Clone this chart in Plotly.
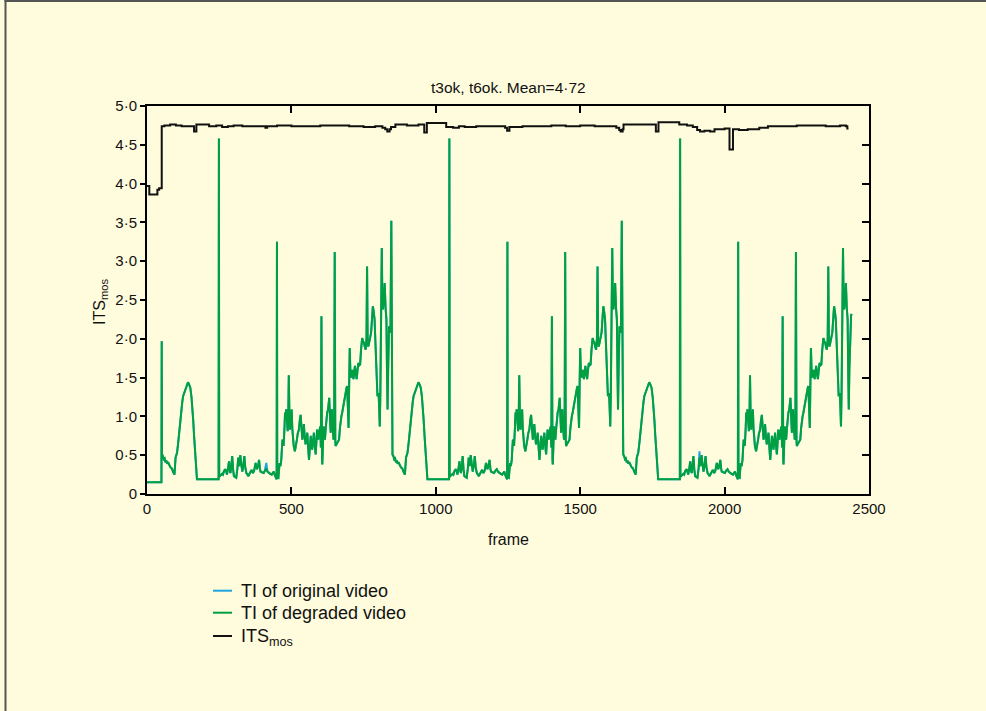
import plotly.graph_objects as go

FONT = "Liberation Sans, Arial, Helvetica, sans-serif"
BG = "#FFFCDD"
BLUE = "#1EA5E0"
GREEN = "#00A040"
BLACK = "#111111"

# ---- TI of degraded video -------------------------------------------------
# flat lead-in before the first scene cut
LEAD_FRAMES = [0, 50]
LEAD_VALUES = [0.15, 0.15]

# frames relative to each scene cut (the sequence is looped three times)
CYCLE_T = [1, 2, 5, 8, 11, 14, 17, 20, 23, 26, 29, 32, 36, 40, 43, 45, 49, 52, 54, 58,
           61, 65, 69, 72, 75, 79, 83, 87, 92, 96, 100, 104, 107, 110, 113, 116, 118, 121, 123, 198,
           199, 200, 202, 206, 210, 213, 217, 222, 225, 227, 231, 234, 237, 239, 242, 245, 248, 251, 255, 259,
           263, 266, 269, 273, 277, 280, 284, 287, 290, 294, 298, 301, 305, 308, 312, 317, 321, 326, 329, 331,
           335, 338, 341, 343, 348, 354, 358, 363, 367, 372, 377, 382, 386, 389, 393, 396, 399, 400, 401, 405,
           407, 409, 412, 415, 417, 419, 421, 423, 426, 428, 430, 432, 435, 437, 439, 441, 443, 445, 448, 451,
           453, 455, 458, 462, 465, 469, 472, 476, 479, 482, 485, 488, 491, 493, 496, 499, 502, 505, 508, 511,
           514, 517, 520, 522, 525, 528, 531, 534, 537, 539, 541, 543, 546, 550, 552, 554, 556, 557, 559, 561,
           564, 566, 569, 571, 574, 577, 579, 581, 584, 586, 588, 590, 593, 596, 598, 600, 602, 603, 606, 609,
           612, 615, 618, 620, 623, 626, 629, 632, 635, 638, 641, 643, 646, 648, 650, 652, 654, 656, 659, 661,
           663, 665, 668, 670, 673, 676, 679, 682, 685, 688, 691, 695, 698, 701, 704, 707, 710, 712, 714, 716,
           719, 722, 726, 729, 732, 735, 738, 741, 744, 746, 748, 750, 752, 754, 756, 758, 760, 763, 765, 767,
           770, 773, 776, 779, 781, 783, 785, 788, 791, 793, 796]

CYCLE1_V = [1.97, 0.51, 0.49, 0.45, 0.46, 0.41, 0.43, 0.39, 0.41, 0.37, 0.36, 0.34, 0.33, 0.29, 0.27, 0.25, 0.47, 0.50, 0.53, 0.66,
            0.79, 0.92, 1.05, 1.18, 1.26, 1.30, 1.35, 1.40, 1.44, 1.41, 1.37, 1.25, 1.13, 0.95, 0.75, 0.55, 0.40, 0.25, 0.19, 0.19,
            4.58, 0.25, 0.23, 0.24, 0.26, 0.25, 0.30, 0.32, 0.26, 0.25, 0.34, 0.42, 0.30, 0.27, 0.36, 0.49, 0.32, 0.23, 0.22, 0.21,
            0.33, 0.47, 0.36, 0.50, 0.37, 0.29, 0.38, 0.49, 0.35, 0.27, 0.25, 0.23, 0.26, 0.29, 0.31, 0.27, 0.30, 0.40, 0.34, 0.32,
            0.37, 0.44, 0.33, 0.29, 0.28, 0.27, 0.30, 0.32, 0.29, 0.27, 0.26, 0.25, 0.27, 0.29, 0.24, 0.21, 0.19, 3.25, 0.22, 0.21,
            0.30, 0.40, 0.36, 0.44, 0.58, 0.70, 0.66, 0.62, 0.85, 1.05, 0.98, 1.09, 0.92, 0.81, 0.95, 1.53, 1.05, 0.83, 0.95, 1.09,
            0.85, 0.70, 0.62, 0.55, 0.60, 0.70, 0.78, 0.83, 0.95, 1.02, 0.85, 0.70, 0.78, 0.90, 0.75, 0.64, 0.70, 0.79, 0.60, 0.44,
            0.60, 0.75, 0.65, 0.57, 0.68, 0.79, 0.62, 0.51, 0.70, 0.83, 0.76, 0.70, 0.80, 0.87, 0.60, 2.29, 0.45, 0.38, 0.60, 0.87,
            0.78, 0.70, 0.85, 0.96, 1.05, 1.09, 1.16, 1.24, 0.95, 0.79, 0.95, 1.09, 0.85, 0.70, 0.75, 3.12, 0.70, 0.62, 0.64, 0.66,
            0.68, 0.70, 0.85, 0.96, 1.00, 1.05, 1.12, 1.22, 1.28, 1.35, 1.37, 1.39, 1.05, 0.85, 1.40, 1.88, 1.60, 1.50, 1.56, 1.60,
            1.52, 1.48, 1.58, 1.65, 1.55, 1.48, 1.60, 1.69, 1.66, 1.67, 1.85, 2.01, 1.97, 1.95, 1.90, 1.86, 2.00, 2.93, 2.00, 1.90,
            1.95, 2.02, 2.08, 2.25, 2.42, 2.35, 2.25, 1.95, 1.65, 1.40, 1.26, 1.28, 1.30, 1.10, 0.87, 1.30, 2.10, 3.17, 2.50, 2.38,
            2.50, 2.72, 2.40, 2.25, 1.60, 1.09, 1.60, 2.16, 2.10, 2.08, 3.52]

CYCLE2_V = [0.51, 0.51, 0.49, 0.45, 0.46, 0.41, 0.43, 0.39, 0.41, 0.37, 0.36, 0.34, 0.33, 0.29, 0.27, 0.25, 0.47, 0.50, 0.53, 0.66,
            0.79, 0.92, 1.05, 1.18, 1.26, 1.30, 1.35, 1.40, 1.44, 1.41, 1.37, 1.25, 1.13, 0.95, 0.75, 0.55, 0.40, 0.25, 0.19, 0.19,
            4.58, 0.25, 0.23, 0.24, 0.26, 0.25, 0.30, 0.32, 0.26, 0.25, 0.34, 0.42, 0.30, 0.27, 0.36, 0.49, 0.32, 0.23, 0.22, 0.21,
            0.33, 0.47, 0.36, 0.50, 0.37, 0.29, 0.38, 0.49, 0.35, 0.27, 0.25, 0.23, 0.26, 0.29, 0.31, 0.27, 0.30, 0.40, 0.34, 0.32,
            0.37, 0.44, 0.33, 0.29, 0.28, 0.27, 0.30, 0.32, 0.29, 0.27, 0.26, 0.25, 0.27, 0.29, 0.24, 0.21, 0.19, 3.25, 0.22, 0.21,
            0.30, 0.40, 0.36, 0.44, 0.58, 0.70, 0.66, 0.62, 0.85, 1.05, 0.98, 1.09, 0.92, 0.81, 0.95, 1.53, 1.05, 0.83, 0.95, 1.09,
            0.85, 0.70, 0.62, 0.55, 0.60, 0.70, 0.78, 0.83, 0.95, 1.02, 0.85, 0.70, 0.78, 0.90, 0.75, 0.64, 0.70, 0.79, 0.60, 0.44,
            0.60, 0.75, 0.65, 0.57, 0.68, 0.79, 0.62, 0.51, 0.70, 0.83, 0.76, 0.70, 0.80, 0.87, 0.60, 2.29, 0.45, 0.38, 0.60, 0.87,
            0.78, 0.70, 0.85, 0.96, 1.05, 1.09, 1.16, 1.24, 0.95, 0.79, 0.95, 1.09, 0.85, 0.70, 0.75, 3.12, 0.70, 0.62, 0.64, 0.66,
            0.68, 0.70, 0.85, 0.96, 1.00, 1.05, 1.12, 1.22, 1.28, 1.35, 1.37, 1.39, 1.05, 0.85, 1.40, 1.88, 1.60, 1.50, 1.56, 1.60,
            1.52, 1.48, 1.58, 1.65, 1.55, 1.48, 1.60, 1.69, 1.66, 1.67, 1.85, 2.01, 1.97, 1.95, 1.90, 1.86, 2.00, 2.93, 2.00, 1.90,
            1.95, 2.02, 2.08, 2.25, 2.42, 2.35, 2.25, 1.95, 1.65, 1.40, 1.26, 1.28, 1.30, 1.10, 0.87, 1.30, 2.10, 3.17, 2.50, 2.38,
            2.50, 2.72, 2.40, 2.25, 1.60, 1.09, 1.60, 2.16, 2.10, 2.08, 3.52]

CYCLE3_V = [0.51, 0.51, 0.49, 0.45, 0.46, 0.41, 0.43, 0.39, 0.41, 0.37, 0.36, 0.34, 0.33, 0.29, 0.27, 0.25, 0.47, 0.50, 0.53, 0.66,
            0.79, 0.92, 1.05, 1.18, 1.26, 1.30, 1.35, 1.40, 1.44, 1.41, 1.37, 1.25, 1.13, 0.95, 0.75, 0.55, 0.40, 0.25, 0.19, 0.19,
            4.58, 0.25, 0.23, 0.24, 0.26, 0.25, 0.30, 0.32, 0.26, 0.25, 0.34, 0.42, 0.30, 0.27, 0.36, 0.49, 0.32, 0.23, 0.22, 0.21,
            0.33, 0.47, 0.36, 0.50, 0.37, 0.29, 0.38, 0.49, 0.35, 0.27, 0.25, 0.23, 0.26, 0.29, 0.31, 0.27, 0.30, 0.40, 0.34, 0.32,
            0.37, 0.44, 0.33, 0.29, 0.28, 0.27, 0.30, 0.32, 0.29, 0.27, 0.26, 0.25, 0.27, 0.29, 0.24, 0.21, 0.19, 3.25, 0.22, 0.21,
            0.30, 0.40, 0.36, 0.44, 0.58, 0.70, 0.66, 0.62, 0.85, 1.05, 0.98, 1.09, 0.92, 0.81, 0.95, 1.53, 1.05, 0.83, 0.95, 1.09,
            0.85, 0.70, 0.62, 0.55, 0.60, 0.70, 0.78, 0.83, 0.95, 1.02, 0.85, 0.70, 0.78, 0.90, 0.75, 0.64, 0.70, 0.79, 0.60, 0.44,
            0.60, 0.75, 0.65, 0.57, 0.68, 0.79, 0.62, 0.51, 0.70, 0.83, 0.76, 0.70, 0.80, 0.87, 0.60, 2.29, 0.45, 0.38, 0.60, 0.87,
            0.78, 0.70, 0.85, 0.96, 1.05, 1.09, 1.16, 1.24, 0.95, 0.79, 0.95, 1.09, 0.85, 0.70, 0.75, 3.12, 0.70, 0.62, 0.64, 0.66,
            0.68, 0.70, 0.85, 0.96, 1.00, 1.05, 1.12, 1.22, 1.28, 1.35, 1.37, 1.39, 1.05, 0.85, 1.40, 1.88, 1.60, 1.50, 1.56, 1.60,
            1.52, 1.48, 1.58, 1.65, 1.55, 1.48, 1.60, 1.69, 1.66, 1.67, 1.85, 2.01, 1.97, 1.95, 1.90, 1.86, 2.00, 2.93, 2.00, 1.90,
            1.95, 2.02, 2.08, 2.25, 2.42, 2.35, 2.25, 1.95, 1.65, 1.40, 1.26, 1.28, 1.30, 1.10, 0.87, 1.30, 2.10, 3.17, 2.50, 2.38,
            2.50, 2.72, 2.40, 2.25, 1.60, 1.09, 1.60, 2.16, 2.30, 2.32]

CYCLE_STARTS = [50, 848, 1647]

# TI of original video: identical to the degraded one except at these frames
ORIG_DIFF_FRAMES = [413, 1913]
ORIG_DIFF_VALUES = [0.40, 0.55]

# ---- ITS mos (step line) ---------------------------------------------------
ITS_FRAMES = [0, 8, 36, 42, 51, 60, 80, 100, 120, 150, 163, 171, 200, 215, 240, 260, 280, 300, 330, 360,
              410, 416, 450, 500, 560, 600, 650, 700, 750, 790, 815, 825, 832, 840, 845, 860, 900, 940, 960, 969,
              1036, 1060, 1080, 1100, 1140, 1200, 1240, 1247, 1255, 1300, 1350, 1400, 1450, 1500, 1550, 1600, 1625, 1635, 1640, 1647,
              1650, 1700, 1762, 1771, 1843, 1870, 1890, 1905, 1915, 1930, 1950, 1965, 2000, 2017, 2029, 2050, 2080, 2120, 2150, 2250,
              2350, 2400, 2420, 2425, 2429]
ITS_VALUES = [3.97, 3.86, 3.92, 3.94, 4.74, 4.75, 4.76, 4.75, 4.74, 4.74, 4.67, 4.76, 4.76, 4.74, 4.75, 4.73, 4.74, 4.75, 4.74, 4.74,
              4.72, 4.74, 4.75, 4.74, 4.74, 4.75, 4.75, 4.74, 4.73, 4.74, 4.72, 4.70, 4.67, 4.70, 4.73, 4.76, 4.75, 4.76, 4.66, 4.78,
              4.73, 4.72, 4.74, 4.73, 4.74, 4.74, 4.72, 4.68, 4.73, 4.74, 4.74, 4.75, 4.74, 4.75, 4.74, 4.74, 4.72, 4.69, 4.67, 4.70,
              4.76, 4.76, 4.67, 4.79, 4.76, 4.75, 4.73, 4.69, 4.67, 4.68, 4.67, 4.70, 4.71, 4.44, 4.70, 4.69, 4.70, 4.72, 4.74, 4.75,
              4.74, 4.75, 4.74, 4.71, 4.71]

Y_TICKS = [0, 0.5, 1.0, 1.5, 2.0, 2.5, 3.0, 3.5, 4.0, 4.5, 5.0]
Y_TICK_TEXT = ["0", "0·5", "1·0", "1·5", "2·0", "2·5", "3·0", "3·5", "4·0", "4·5", "5·0"]
X_TICKS = [0, 500, 1000, 1500, 2000, 2500]

LEGEND_LABELS = ["TI of original video", "TI of degraded video", "ITS<sub>mos</sub>"]
LEGEND_COLORS = [BLUE, GREEN, BLACK]

# ---- assemble series --------------------------------------------------------
deg_x = list(LEAD_FRAMES)
deg_y = list(LEAD_VALUES)
for start, vals in zip(CYCLE_STARTS, [CYCLE1_V, CYCLE2_V, CYCLE3_V]):
    for t, v in zip(CYCLE_T, vals):
        deg_x.append(start + t)
        deg_y.append(v)

diff = dict(zip(ORIG_DIFF_FRAMES, ORIG_DIFF_VALUES))
orig_y = [diff.get(f, v) for f, v in zip(deg_x, deg_y)]

fig = go.Figure()
fig.add_trace(go.Scatter(x=deg_x, y=orig_y, mode="lines", line=dict(color=BLUE, width=2),
                         name="TI of original video", showlegend=False))
fig.add_trace(go.Scatter(x=deg_x, y=deg_y, mode="lines", line=dict(color=GREEN, width=2),
                         name="TI of degraded video", showlegend=False))
fig.add_trace(go.Scatter(x=ITS_FRAMES, y=ITS_VALUES, mode="lines", line=dict(color=BLACK, width=2, shape="hv"),
                         name="ITS mos", showlegend=False))
# carrier for the right-hand inward ticks
fig.add_trace(go.Scatter(x=[None], y=[None], yaxis="y2", mode="lines", showlegend=False, hoverinfo="skip"))

L, R, T, B = 147, 117, 106, 217
W, H = 986, 711
pw, ph = W - L - R, H - T - B


def px(x):
    return (x - L) / pw


def py(y):
    return (H - B - y) / ph


shapes = [
    dict(type="line", xref="paper", yref="paper", x0=px(5.5), x1=px(5.5), y0=py(711), y1=py(0),
         line=dict(color="#555555", width=2)),
    dict(type="line", xref="paper", yref="paper", x0=px(4.5), x1=px(986), y0=py(1), y1=py(1),
         line=dict(color="#555555", width=2)),
]
annotations = []
legend_rows = [590.7, 612.7, 636.0]
for lab, col, row in zip(LEGEND_LABELS, LEGEND_COLORS, legend_rows):
    shapes.append(dict(type="line", xref="paper", yref="paper", x0=px(213), x1=px(232), y0=py(row), y1=py(row),
                       line=dict(color=col, width=2)))
    annotations.append(dict(xref="paper", yref="paper", x=px(239), y=py(row + 1 if "sub" in lab else row),
                            text=lab, showarrow=False, xanchor="left", yanchor="middle",
                            font=dict(family=FONT, size=18, color="#111")))

annotations.append(dict(xref="paper", yref="paper", x=0.5, y=py(539), text="frame", showarrow=False,
                        xanchor="center", yanchor="middle", font=dict(family=FONT, size=16, color="#111")))
annotations.append(dict(xref="paper", yref="paper", x=px(100), y=py(302), text="ITS<sub>mos</sub>", showarrow=False,
                        textangle=-90, xanchor="center", yanchor="middle",
                        font=dict(family=FONT, size=16, color="#111")))
annotations.append(dict(xref="paper", yref="paper", x=0.5, y=py(88), text="t3ok, t6ok. Mean=4·72", showarrow=False,
                        xanchor="center", yanchor="middle", font=dict(family=FONT, size=15.5, color="#111")))

fig.update_layout(
    width=W, height=H,
    margin=dict(l=L, r=R, t=T, b=B, pad=0),
    paper_bgcolor=BG, plot_bgcolor=BG,
    font=dict(family=FONT, color="#111"),
    shapes=shapes, annotations=annotations,
    showlegend=False,
    xaxis=dict(range=[0, 2500], tickvals=X_TICKS, ticks="inside", ticklen=7, tickwidth=2, tickcolor="black",
               showline=True, linewidth=2, linecolor="black", mirror="ticks", showgrid=False, zeroline=False,
               tickfont=dict(family=FONT, size=15, color="#111")),
    yaxis=dict(range=[0, 5], tickvals=Y_TICKS, ticktext=Y_TICK_TEXT, ticks="outside", ticklen=5, tickwidth=2,
               tickcolor="black", showline=True, linewidth=2, linecolor="black", mirror=True, showgrid=False,
               zeroline=False, tickfont=dict(family=FONT, size=15, color="#111")),
    yaxis2=dict(range=[0, 5], overlaying="y", side="right", tickvals=Y_TICKS, ticks="inside", ticklen=7,
                tickwidth=2, tickcolor="black", showticklabels=False, showline=False, showgrid=False,
                zeroline=False),
)

fig.write_html("out.html")
